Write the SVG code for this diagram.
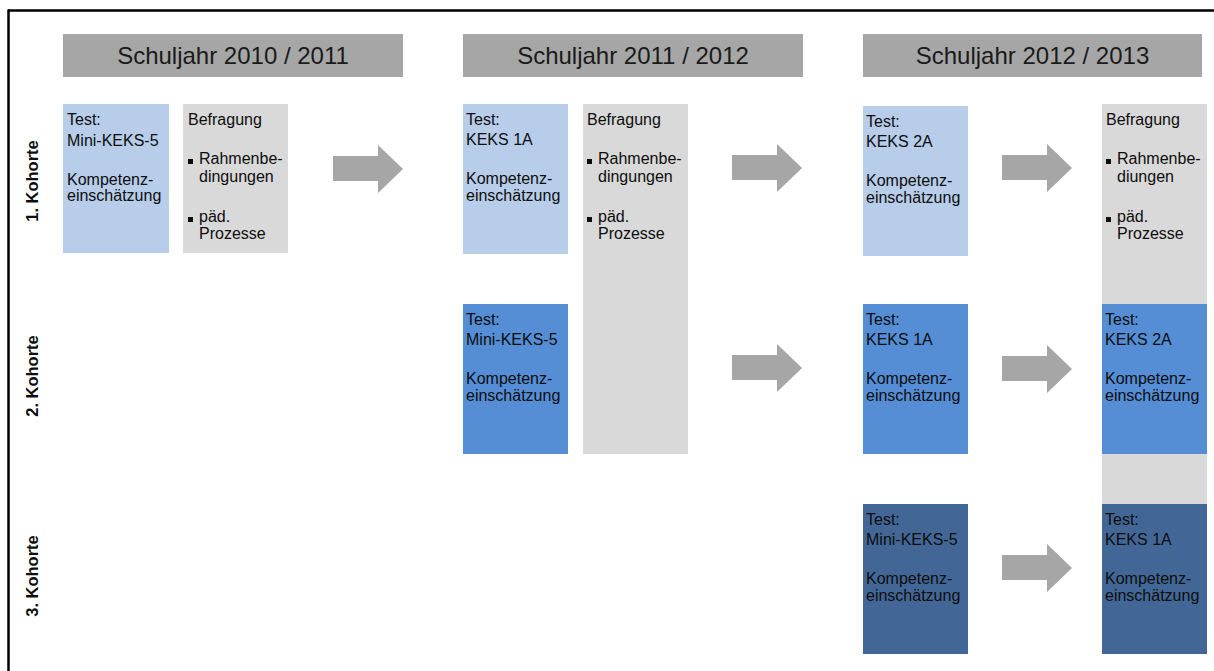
<svg xmlns="http://www.w3.org/2000/svg" width="1214" height="671" viewBox="0 0 1214 671">
<style>
.hdr{fill:#a6a6a6}
.hdrt{font-family:"Liberation Sans",Arial,sans-serif;font-size:24px;fill:#1a1a1a;text-anchor:middle}
.lb{fill:#b7cde9}
.mb{fill:#558ed5}
.db{fill:#426796}
.gr{fill:#d9d9d9}
.t{font-family:"Liberation Sans",Arial,sans-serif;font-size:16px;fill:#0d0d0d}
.coh{font-family:"Liberation Sans",Arial,sans-serif;font-size:16.5px;font-weight:bold;fill:#0d0d0d;text-anchor:middle}
.arr{fill:#a6a6a6}
.bul{fill:#0d0d0d}
</style>
<defs>
<path id="blockArrow" d="M0,11 H45 V0 L70,24 L45,48 V36 H0 Z"/>
</defs>
<rect width="1214" height="671" fill="#ffffff"/>
<g id="frame" stroke="#000" stroke-width="2.5" fill="none">
<line x1="8" y1="10.5" x2="1214" y2="10.5"/>
<line x1="8.5" y1="9.5" x2="8.5" y2="671"/>
</g>
<g id="header-2010">
<rect class="hdr" x="63" y="34" width="340" height="43"/>
<text class="hdrt" x="233" y="64">Schuljahr 2010 / 2011</text>
</g>
<g id="header-2011">
<rect class="hdr" x="463" y="34" width="340" height="43"/>
<text class="hdrt" x="633" y="64">Schuljahr 2011 / 2012</text>
</g>
<g id="header-2012">
<rect class="hdr" x="863" y="34" width="339" height="43"/>
<text class="hdrt" x="1032.5" y="64">Schuljahr 2012 / 2013</text>
</g>
<g id="kohorte-labels">
<text class="coh" transform="translate(38,181) rotate(-90)">1. Kohorte</text>
<text class="coh" transform="translate(38,376) rotate(-90)">2. Kohorte</text>
<text class="coh" transform="translate(38,576) rotate(-90)">3. Kohorte</text>
</g>
<!-- Column 1 -->
<g id="k1-test-2010">
<rect class="lb" x="63" y="104" width="106" height="149"/>
<text class="t"><tspan x="67" y="125">Test:</tspan><tspan x="67" y="146">Mini-KEKS-5</tspan><tspan x="67" y="185">Kompetenz-</tspan><tspan x="67" y="201">einschätzung</tspan></text>
</g>
<g id="k1-befragung-2010">
<rect class="gr" x="183" y="104" width="105" height="149"/>
<text class="t"><tspan x="188" y="125">Befragung</tspan><tspan x="199" y="164">Rahmenbe-</tspan><tspan x="199" y="182">dingungen</tspan><tspan x="199" y="222">päd.</tspan><tspan x="199" y="239">Prozesse</tspan></text>
<rect class="bul" x="188" y="159" width="5" height="5"/>
<rect class="bul" x="188" y="217" width="5" height="5"/>
</g>
<!-- Column 2 -->
<g id="befragung-2011">
<rect class="gr" x="583" y="104" width="105" height="350"/>
<text class="t"><tspan x="587" y="125">Befragung</tspan><tspan x="598" y="164">Rahmenbe-</tspan><tspan x="598" y="182">dingungen</tspan><tspan x="598" y="222">päd.</tspan><tspan x="598" y="239">Prozesse</tspan></text>
<rect class="bul" x="587" y="159" width="5" height="5"/>
<rect class="bul" x="587" y="217" width="5" height="5"/>
</g>
<g id="k1-test-2011">
<rect class="lb" x="463" y="104" width="105" height="150"/>
<text class="t"><tspan x="466" y="125">Test:</tspan><tspan x="466" y="145">KEKS 1A</tspan><tspan x="466" y="184">Kompetenz-</tspan><tspan x="466" y="201">einschätzung</tspan></text>
</g>
<g id="k2-test-2011">
<rect class="mb" x="463" y="304" width="105" height="150"/>
<text class="t"><tspan x="466" y="325">Test:</tspan><tspan x="466" y="345">Mini-KEKS-5</tspan><tspan x="466" y="384">Kompetenz-</tspan><tspan x="466" y="401">einschätzung</tspan></text>
</g>
<!-- Column 3 -->
<g id="k1-test-2012">
<rect class="lb" x="863" y="106" width="105" height="150"/>
<text class="t"><tspan x="866" y="127">Test:</tspan><tspan x="866" y="147">KEKS 2A</tspan><tspan x="866" y="186">Kompetenz-</tspan><tspan x="866" y="203">einschätzung</tspan></text>
</g>
<g id="k2-test-2012">
<rect class="mb" x="863" y="304" width="105" height="150"/>
<text class="t"><tspan x="866" y="325">Test:</tspan><tspan x="866" y="345">KEKS 1A</tspan><tspan x="866" y="384">Kompetenz-</tspan><tspan x="866" y="401">einschätzung</tspan></text>
</g>
<g id="k3-test-2012">
<rect class="db" x="863" y="504" width="105" height="150"/>
<text class="t"><tspan x="866" y="525">Test:</tspan><tspan x="866" y="545">Mini-KEKS-5</tspan><tspan x="866" y="584">Kompetenz-</tspan><tspan x="866" y="601">einschätzung</tspan></text>
</g>
<!-- Column 4 -->
<g id="befragung-2013">
<rect class="gr" x="1102" y="104" width="105" height="400"/>
<text class="t"><tspan x="1106" y="125">Befragung</tspan><tspan x="1117" y="164">Rahmenbe-</tspan><tspan x="1117" y="182">diungen</tspan><tspan x="1117" y="222">päd.</tspan><tspan x="1117" y="239">Prozesse</tspan></text>
<rect class="bul" x="1106" y="159" width="5" height="5"/>
<rect class="bul" x="1106" y="217" width="5" height="5"/>
</g>
<g id="k2-test-2013">
<rect class="mb" x="1102" y="304" width="105" height="150"/>
<text class="t"><tspan x="1105" y="325">Test:</tspan><tspan x="1105" y="345">KEKS 2A</tspan><tspan x="1105" y="384">Kompetenz-</tspan><tspan x="1105" y="401">einschätzung</tspan></text>
</g>
<g id="k3-test-2013">
<rect class="db" x="1102" y="504" width="105" height="150"/>
<text class="t"><tspan x="1105" y="525">Test:</tspan><tspan x="1105" y="545">KEKS 1A</tspan><tspan x="1105" y="584">Kompetenz-</tspan><tspan x="1105" y="601">einschätzung</tspan></text>
</g>
<g id="connectors">
<use href="#blockArrow" class="arr" x="333" y="145"/>
<use href="#blockArrow" class="arr" x="732" y="144"/>
<use href="#blockArrow" class="arr" x="732" y="344"/>
<use href="#blockArrow" class="arr" x="1002" y="144"/>
<use href="#blockArrow" class="arr" x="1002" y="345"/>
<use href="#blockArrow" class="arr" x="1002" y="544"/>
</g>
</svg>
